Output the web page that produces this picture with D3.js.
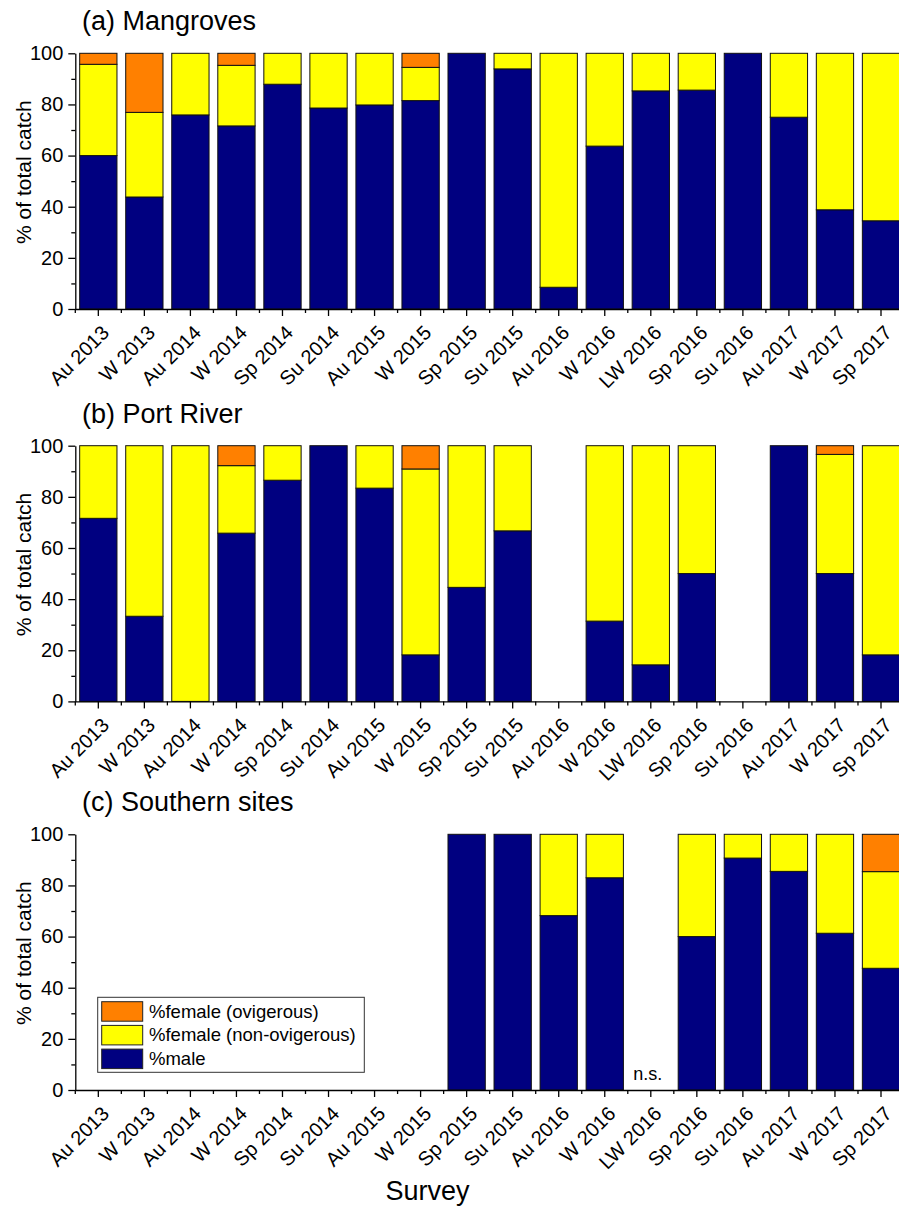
<!DOCTYPE html>
<html>
<head>
<meta charset="utf-8">
<script src="https://cdn.jsdelivr.net/npm/d3@7"></script>
<style>
  body { margin: 0; background: #fff; }
  text { font-family: Arial, 'Liberation Sans', sans-serif; fill: #000; }
</style>
</head>
<body>
<script>
var surveys = ["Au 2013", "W 2013", "Au 2014", "W 2014", "Sp 2014", "Su 2014", "Au 2015", "W 2015", "Sp 2015",
               "Su 2015", "Au 2016", "W 2016", "LW 2016", "Sp 2016", "Su 2016", "Au 2017", "W 2017", "Sp 2017"];

// (a) Mangroves
var mangMale   = [60, 43.8, 75.9, 71.6, 87.9, 78.6, 79.8, 81.5, 100, 93.9, 8.5, 63.7, 85.3, 85.6, 100, 75, 38.8, 34.5];
var mangFemale = [35.7, 33.1, 24.1, 23.7, 12.1, 21.4, 20.2, 13.0, 0, 6.1, 91.5, 36.3, 14.7, 14.4, 0, 25, 61.2, 65.5];
var mangOvig   = [4.3, 23.1, 0, 4.7, 0, 0, 0, 5.5, 0, 0, 0, 0, 0, 0, 0, 0, 0, 0];

// (b) Port River (null = no bar)
var portMale   = [71.6, 33.3, 0, 65.8, 86.5, 100, 83.4, 18.2, 44.6, 66.7, null, 31.4, 14.3, 50, null, 100, 50, 18.2];
var portFemale = [28.4, 66.7, 100, 26.4, 13.5, 0, 16.6, 72.7, 55.4, 33.3, null, 68.6, 85.7, 50, null, 0, 46.6, 81.8];
var portOvig   = [0, 0, 0, 7.8, 0, 0, 0, 9.1, 0, 0, null, 0, 0, 0, null, 0, 3.4, 0];

// (c) Southern sites
var southMale   = [null, null, null, null, null, null, null, null, 100, 100, 68.2, 83.0, null, 60, 90.7, 85.5, 61.3, 47.6];
var southFemale = [null, null, null, null, null, null, null, null, 0, 0, 31.8, 17.0, null, 40, 9.3, 14.5, 38.7, 37.8];
var southOvig   = [null, null, null, null, null, null, null, null, 0, 0, 0, 0, null, 0, 0, 0, 0, 14.6];

var yTicks = [0, 20, 40, 60, 80, 100];
var yMinor = [10, 30, 50, 70, 90];
var keys = ["male", "female", "ovig"];
var colors = {male: "#000080", female: "#ffff00", ovig: "#ff8000"};
var legendLabels = ["%female (ovigerous)", "%female (non-ovigerous)", "%male"];
var legendKeys = ["ovig", "female", "male"];

var panels = [
  {title: "(a) Mangroves",      top: 53.3,  male: mangMale,  female: mangFemale,  ovig: mangOvig},
  {title: "(b) Port River",     top: 445.7, male: portMale,  female: portFemale,  ovig: portOvig},
  {title: "(c) Southern sites", top: 834.3, male: southMale, female: southFemale, ovig: southOvig, ns: "LW 2016", legend: true}
];

var W = 899, H = 1207;
var left = 75.3, ph = 255.7, step = 46.04;

var svg = d3.select("body").append("svg")
  .attr("width", W).attr("height", H);

var x = d3.scaleBand()
  .domain(surveys)
  .range([left, left + step * surveys.length])
  .paddingInner(0.19)
  .paddingOuter(0.095);

panels.forEach(function(p) {
  var bottom = p.top + ph;
  var y = d3.scaleLinear().domain([0, 100]).range([bottom, p.top]);
  var g = svg.append("g");

  var rows = surveys.map(function(s, i) {
    return {survey: s, male: p.male[i], female: p.female[i], ovig: p.ovig[i]};
  }).filter(function(d) { return d.male !== null; });

  var series = d3.stack().keys(keys)(rows);

  g.selectAll("g.layer")
    .data(series)
    .enter().append("g")
      .attr("fill", function(d) { return colors[d.key]; })
    .selectAll("rect")
    .data(function(d) { return d.filter(function(v) { return v[1] - v[0] > 0; }); })
    .enter().append("rect")
      .attr("x", function(d) { return x(d.data.survey); })
      .attr("y", function(d) { return y(d[1]); })
      .attr("width", x.bandwidth())
      .attr("height", function(d) { return y(d[0]) - y(d[1]); })
      .attr("stroke", "#111")
      .attr("stroke-width", 1);

  // y axis
  var yAxis = g.append("g")
    .attr("transform", "translate(" + left + ",0)")
    .call(d3.axisLeft(y).tickValues(yTicks).tickSize(7).tickSizeOuter(0).tickPadding(5));
  yAxis.selectAll("text").attr("font-size", 20).attr("font-family", null);
  yAxis.selectAll("line, path").attr("stroke", "#000").attr("stroke-width", 1.3);

  var yAxisMinor = g.append("g")
    .attr("transform", "translate(" + left + ",0)")
    .call(d3.axisLeft(y).tickValues(yMinor).tickSize(4).tickFormat(""));
  yAxisMinor.select(".domain").remove();
  yAxisMinor.selectAll("line").attr("stroke", "#000").attr("stroke-width", 1.3);

  // x axis
  var xAxis = g.append("g")
    .attr("transform", "translate(0," + bottom + ")")
    .call(d3.axisBottom(x).tickSize(7).tickSizeOuter(0).tickFormat(""));
  xAxis.selectAll("line, path").attr("stroke", "#000").attr("stroke-width", 1.3);

  var bounds = surveys.map(function(s) { return x(s) - (x.step() - x.bandwidth()) / 2; });
  g.selectAll("line.xminor")
    .data(bounds)
    .enter().append("line")
      .attr("x1", function(d) { return d; }).attr("x2", function(d) { return d; })
      .attr("y1", bottom).attr("y2", bottom + 4)
      .attr("stroke", "#000").attr("stroke-width", 1.3);

  g.selectAll("text.xlab")
    .data(surveys)
    .enter().append("text")
      .attr("transform", function(d) {
        return "translate(" + (x(d) + x.bandwidth() / 2 + 12) + "," + (bottom + 25) + ") rotate(-45)";
      })
      .attr("text-anchor", "end")
      .attr("font-size", 20)
      .text(function(d) { return d; });

  g.append("text")
    .attr("transform", "translate(31," + (p.top + ph / 2 - 9) + ") rotate(-90)")
    .attr("text-anchor", "middle")
    .attr("font-size", 21)
    .text("% of total catch");

  g.append("text")
    .attr("x", 82).attr("y", p.top - 23)
    .attr("font-size", 27)
    .text(p.title);

  if (p.ns) {
    g.append("text")
      .attr("x", x(p.ns) + x.bandwidth() / 2 - 3).attr("y", bottom - 10)
      .attr("text-anchor", "middle")
      .attr("font-size", 18)
      .text("n.s.");
  }

  if (p.legend) {
    var lg = g.append("g").attr("transform", "translate(97.7,997.3)");
    lg.append("rect")
      .attr("width", 266.6).attr("height", 75)
      .attr("fill", "#fff").attr("stroke", "#333").attr("stroke-width", 1);
    var items = lg.selectAll("g.item")
      .data(legendKeys)
      .enter().append("g")
        .attr("transform", function(d, i) { return "translate(4," + (4.4 + i * 23.7) + ")"; });
    items.append("rect")
      .attr("width", 41).attr("height", 19.5)
      .attr("fill", function(d) { return colors[d]; })
      .attr("stroke", "#222").attr("stroke-width", 1);
    items.append("text")
      .attr("x", 47.3).attr("y", 16)
      .attr("font-size", 18.5)
      .text(function(d, i) { return legendLabels[i]; });
  }
});

svg.append("text")
  .attr("x", 427.5).attr("y", 1200)
  .attr("text-anchor", "middle")
  .attr("font-size", 27)
  .text("Survey");
</script>
</body>
</html>
